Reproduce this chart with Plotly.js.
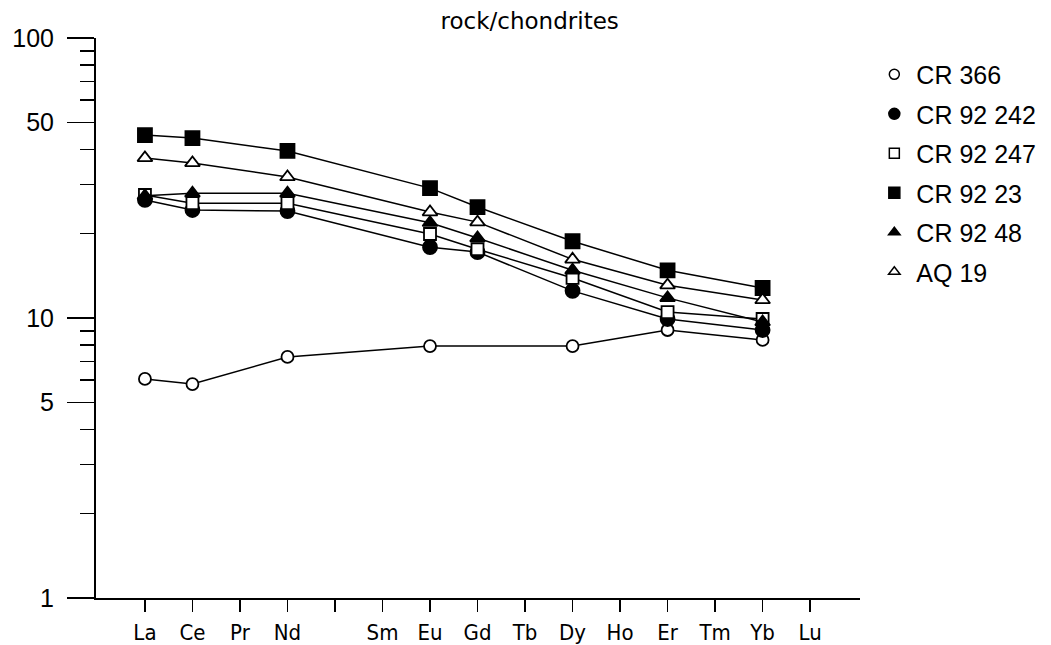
<!DOCTYPE html>
<html>
<head>
<meta charset="utf-8">
<script src="https://cdn.plot.ly/plotly-3.0.1.min.js"></script>
<style>html,body{margin:0;padding:0;background:#fff;}#chart{width:1051px;height:645px;}</style>
</head>
<body>
<div id="chart"></div>
<script>
// Element positions along the x axis (Pm slot kept but unlabelled)
const elements = ['La','Ce','Pr','Nd','Pm','Sm','Eu','Gd','Tb','Dy','Ho','Er','Tm','Yb','Lu'];
const tickLabels = ['La','Ce','Pr','Nd','','Sm','Eu','Gd','Tb','Dy','Ho','Er','Tm','Yb','Lu'];

const seriesNames = ['CR 366','CR 92 242','CR 92 247','CR 92 23','CR 92 48','AQ 19'];

const elCR366 = ['La','Ce','Nd','Eu','Dy','Er','Yb'];
const elOthers = ['La','Ce','Nd','Eu','Gd','Dy','Er','Yb'];

const cr366   = [6.06, 5.81, 7.26, 7.94, 7.94, 9.06, 8.35];
const cr92242 = [26.4, 24.3, 24.1, 17.9, 17.2, 12.5, 9.92, 9.06];
const cr92247 = [27.5, 25.7, 25.7, 19.95, 17.6, 13.9, 10.5, 9.92];
const cr9223  = [45.0, 43.9, 39.5, 29.1, 24.9, 18.8, 14.8, 12.8];
const cr9248  = [27.3, 27.9, 27.9, 21.9, 19.3, 14.8, 11.8, 9.68];
const aq19    = [37.3, 35.8, 31.9, 23.9, 22.0, 16.2, 13.1, 11.6];

const yMajor = [1, 5, 10, 50, 100];
const yMinor = [2, 3, 4, 6, 7, 8, 9, 20, 30, 40, 60, 70, 80, 90];

const idx = els => els.map(e => elements.indexOf(e));

const styles = [
  {symbol:'circle', color:'#fff', size:12, lsize:10},
  {symbol:'circle', color:'#000', size:14, lsize:11},
  {symbol:'square', color:'#fff', size:12, lsize:10},
  {symbol:'square', color:'#000', size:14, lsize:11},
  {symbol:'triangle-up', color:'#000', size:13, lsize:10},
  {symbol:'triangle-up', color:'#fff', size:13, lsize:10}
];
const dataSets = [
  [elCR366, cr366],
  [elOthers, cr92242],
  [elOthers, cr92247],
  [elOthers, cr9223],
  [elOthers, cr9248],
  [elOthers, aq19]
];

const traces = [];
dataSets.forEach((d, i) => {
  traces.push({
    x: idx(d[0]), y: d[1], type:'scatter', mode:'lines+markers',
    name: seriesNames[i], showlegend:false,
    line:{color:'#000', width:1.5},
    marker:{symbol:styles[i].symbol, color:styles[i].color, size:styles[i].size,
            line:{color:'#000', width:1.8}}
  });
});
// Legend entries (markers only)
seriesNames.forEach((n, i) => {
  traces.push({
    x:[null], y:[null], type:'scatter', mode:'markers', name:n,
    legendgroup:'g'+i, showlegend:true,
    marker:{symbol:styles[i].symbol, color:styles[i].color, size:styles[i].lsize,
            line:{color:'#000', width:1.5}}
  });
});

const layout = {
  width:1051, height:645,
  paper_bgcolor:'#fff', plot_bgcolor:'#fff',
  margin:{l:96, r:191, t:38, b:47},
  font:{family:'"Liberation Sans", Arial, sans-serif', color:'#000'},
  title:{text:'rock/chondrites', x:0.504, xref:'container', xanchor:'center', y:0.968, yref:'container', yanchor:'middle',
         font:{size:23, family:'"DejaVu Sans", sans-serif', color:'#000'}},
  xaxis:{
    type:'linear', range:[-1.03, 15.05],
    tickmode:'array', tickvals: elements.map((e,i)=>i), ticktext: tickLabels,
    ticks:'outside', ticklen:12, tickwidth:1.5, tickcolor:'#000',
    ticklabelstandoff:2, automargin:false,
    showline:true, linecolor:'#000', linewidth:1.5,
    showgrid:false, zeroline:false,
    tickfont:{size:22, family:'"DejaVu Sans Condensed", "Liberation Sans Narrow", Arial, sans-serif'}
  },
  yaxis:{
    type:'log', range:[0, 2],
    tickmode:'array', tickvals:yMajor, ticktext:yMajor.map(String),
    ticks:'outside', ticklen:27, tickwidth:1.5, tickcolor:'#000',
    ticklabelstandoff:8, automargin:false,
    minor:{tickmode:'array', tickvals:yMinor, ticks:'outside', ticklen:14, tickwidth:1.5, tickcolor:'#000', showgrid:false},
    showline:true, linecolor:'#000', linewidth:2,
    showgrid:false, zeroline:false,
    tickfont:{size:25}
  },
  showlegend:true,
  legend:{x:0.830, xref:'container', xanchor:'left', y:0.920, yref:'container', yanchor:'top',
          traceorder:'grouped', tracegroupgap:4,
          itemwidth:34, font:{size:25}, bgcolor:'rgba(0,0,0,0)', itemclick:false},
  shapes:[
    {type:'line', xref:'paper', yref:'paper', x0:-0.031, x1:0, y0:0, y1:0, line:{color:'#000', width:1.5}}
  ]
};

Plotly.newPlot('chart', traces, layout, {displayModeBar:false, staticPlot:true});
</script>
</body>
</html>
